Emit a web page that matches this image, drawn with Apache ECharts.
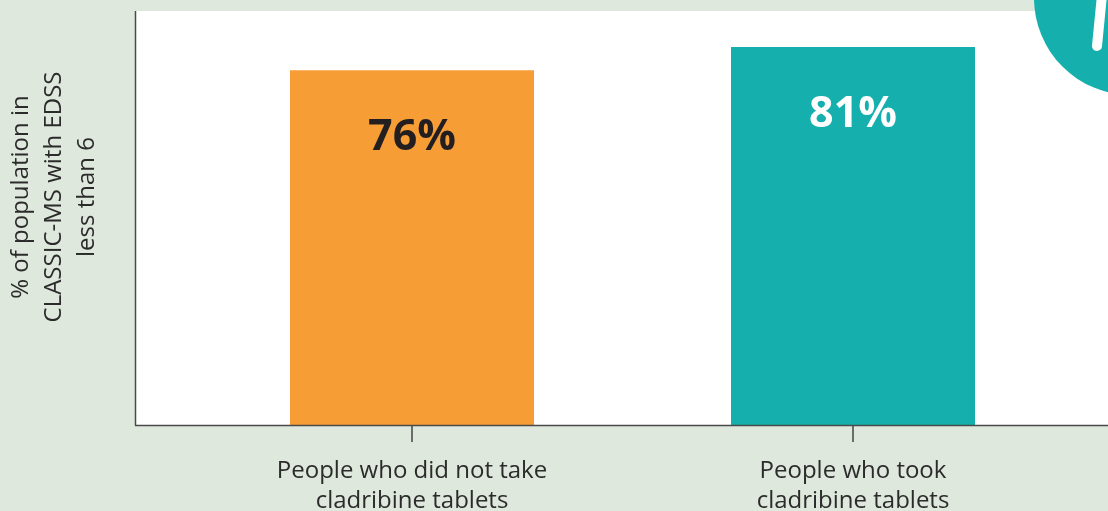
<!DOCTYPE html>
<html>
<head>
<meta charset="utf-8">
<script src="https://cdn.jsdelivr.net/npm/echarts@6/dist/echarts.min.js"></script>
<style>
html,body{margin:0;padding:0;background:#dfe8dd;}
#c{width:1108px;height:511px;}
</style>
</head>
<body>
<div id="c"></div>
<script>
var categories = ['People who did not take\ncladribine tablets', 'People who took\ncladribine tablets'];
var values = [76, 81];
var valueLabels = ['76%', '81%'];
var yAxisTitle = '% of population in\nCLASSIC-MS with EDSS\nless than 6';

var barColors = ['#f79d36', '#15b0ad'];
var labelColors = ['#231f20', '#ffffff'];

var chart = echarts.init(document.getElementById('c'));
var font = '"Open Sans", "Noto Sans", sans-serif';

chart.setOption({
  backgroundColor: '#dfe8dd',
  animation: false,
  grid: {left: 191.5, right: 34.5, top: 11, bottom: 86, containLabel: false, outerBoundsMode: 'none'},
  xAxis: {
    type: 'category',
    data: categories,
    axisLine: {show: false},
    axisTick: {show: true, alignWithLabel: true, length: 17, lineStyle: {color: '#444', width: 1.5}},
    axisLabel: {color: '#2b2b2b', fontFamily: font, fontSize: 24, lineHeight: 30, margin: 31}
  },
  yAxis: {
    type: 'value', min: 0, max: 88.7, show: false, splitLine: {show: false}
  },
  graphic: [
    {type: 'rect', z: 0, shape: {x: 135, y: 11, width: 973, height: 415}, style: {fill: '#ffffff'}},
    {type: 'line', z: 10, shape: {x1: 135.5, y1: 11, x2: 135.5, y2: 425.5}, style: {stroke: '#4a4a4a', lineWidth: 1.5}},
    {type: 'line', z: 10, shape: {x1: 135, y1: 425.5, x2: 1108, y2: 425.5}, style: {stroke: '#4a4a4a', lineWidth: 1.5}},
    {type: 'circle', z: 100, shape: {cx: 1131, cy: -2, r: 97}, style: {fill: '#15b0ad'}},
    {type: 'line', z: 101, shape: {x1: 1097, y1: 46, x2: 1102, y2: -5}, style: {stroke: '#ffffff', lineWidth: 10, lineCap: 'round'}},
    {type: 'text', z: 20, x: 54, y: 197, rotation: Math.PI / 2,
      style: {text: yAxisTitle, fontFamily: font, fontSize: 24, lineHeight: 33, fill: '#2b2b2b', align: 'center', verticalAlign: 'middle'}}
  ],
  series: [{
    type: 'bar',
    barWidth: 244,
    data: values.map(function (v, i) {
      return {
        value: v,
        itemStyle: {color: barColors[i]},
        label: {show: true, position: 'insideTop', distance: 46, formatter: valueLabels[i],
          color: labelColors[i], fontFamily: font, fontWeight: 'bold', fontSize: 43}
      };
    })
  }]
});
</script>
</body>
</html>
